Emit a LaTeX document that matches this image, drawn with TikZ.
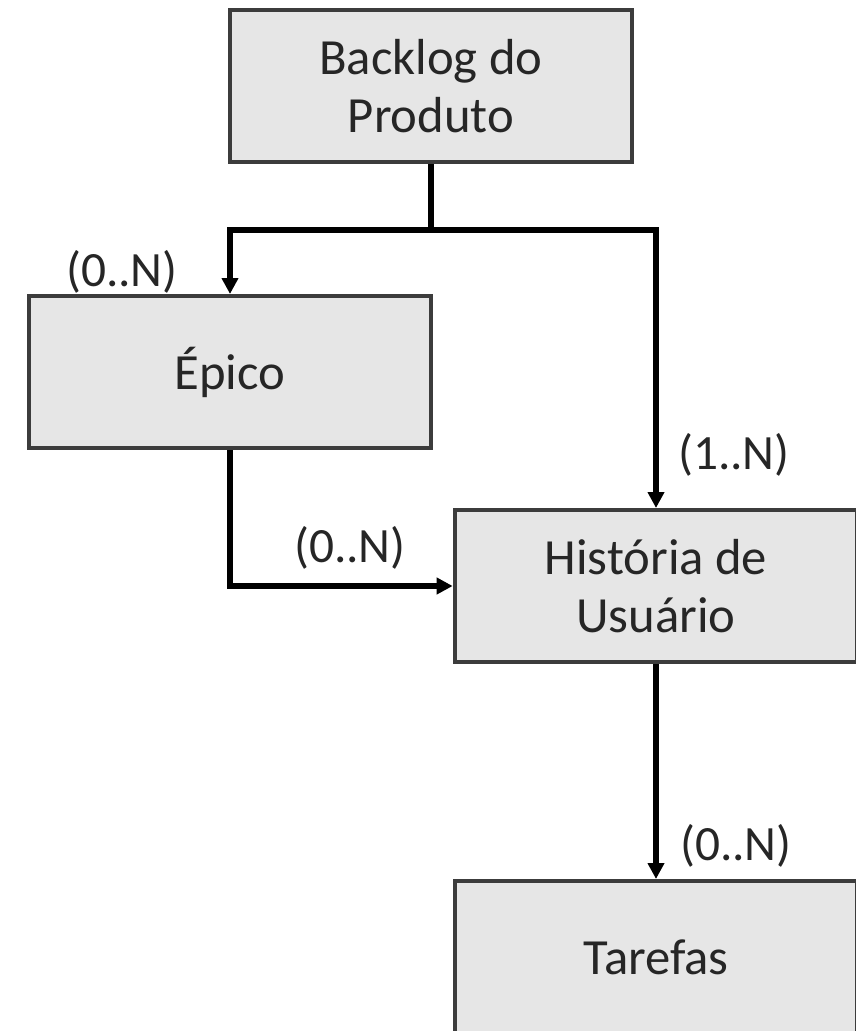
\documentclass[tikz,border=0pt]{standalone}
\usepackage{fontspec}
\setmainfont{Carlito}
\usetikzlibrary{arrows.meta}
\definecolor{boxfill}{HTML}{E6E6E6}
\definecolor{boxline}{HTML}{3C3C3C}
\definecolor{txt}{HTML}{262626}
\tikzset{
  entity/.style={draw=boxline, fill=boxfill, line width=3pt, rectangle,
    minimum width=301pt, minimum height=114pt, align=center, text=txt,
    font=\fontsize{38}{43.5}\selectfont, inner sep=0pt},
  conn/.style={line width=3.8pt, black},
  arr/.style={conn, -{Triangle[length=12pt,width=12pt]}},
  mult/.style={text=txt, font=\fontsize{37}{42}\selectfont, inner sep=0pt}
}
\begin{document}
\begin{tikzpicture}[x=0.75pt,y=-0.75pt]
\useasboundingbox (0,0) rectangle (856,1031);
\node[entity] (backlog) at (431,86) {Backlog do\\Produto};
\node[entity] (epico) at (230,372) {Épico};
\node[entity, minimum width=302pt] (hist) at (656,586) {História de\\Usuário};
\node[entity, minimum width=302pt] (tar) at (656,957) {Tarefas};
\coordinate (split) at (431,230);
\draw[conn] (backlog.south) -- (split);
\draw[arr] (split) -| (epico.north);
\draw[arr] (split) -| (hist.north);
\draw[arr] (epico.south) |- (hist.west);
\draw[arr] (hist.south) -- (tar.north);
\node[mult] (m1) at (122,272) {(0..N)};
\node[mult] (m2) at (734,455) {(1..N)};
\node[mult] (m3) at (350,548) {(0..N)};
\node[mult] (m4) at (736,846) {(0..N)};
\end{tikzpicture}
\end{document}
